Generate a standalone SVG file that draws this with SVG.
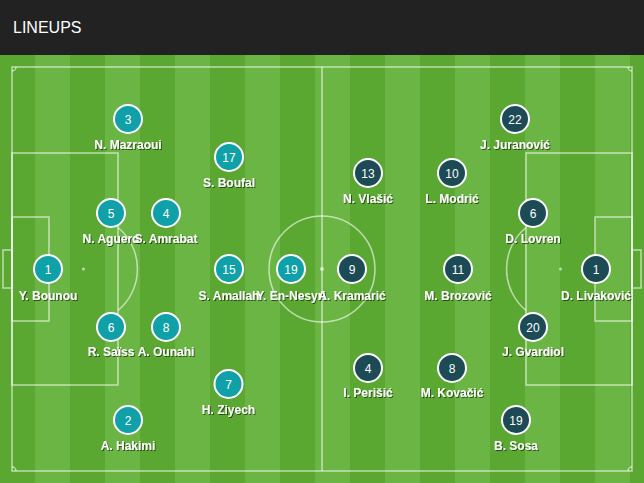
<svg xmlns="http://www.w3.org/2000/svg" width="644" height="483" viewBox="0 0 644 483">
<defs>
<filter id="ts" x="-20%" y="-40%" width="140%" height="180%">
<feDropShadow dx="1" dy="1" stdDeviation="0.6" flood-color="#000" flood-opacity="0.55"/>
</filter>
</defs>
<style>
.d{fill:#5aa832}
.l{fill:#6bb544}
.ln{fill:none;stroke:#ffffff;stroke-opacity:0.6;stroke-width:1.5}
.mor circle{fill:#0fa0a8;stroke:#ffffff;stroke-width:2}
.cro circle{fill:#1c4a55;stroke:#ffffff;stroke-width:2}
.num{font-family:"Liberation Sans",Arial,sans-serif;font-size:12px;fill:#ffffff;text-anchor:middle}
.nm{font-family:"Liberation Sans",Arial,sans-serif;font-size:12px;font-weight:bold;fill:#ffffff;text-anchor:middle;filter:url(#ts)}
</style>
<rect x="0" y="0" width="644" height="55" fill="#222222"/>
<text x="13" y="33" font-family="'Liberation Sans',Arial,sans-serif" font-size="16" fill="#ffffff">LINEUPS</text>
<g id="field">
<rect class="d" x="0" y="55" width="35" height="428"/>
<rect class="l" x="35" y="55" width="35" height="428"/>
<rect class="d" x="70" y="55" width="35" height="428"/>
<rect class="l" x="105" y="55" width="35" height="428"/>
<rect class="d" x="140" y="55" width="35" height="428"/>
<rect class="l" x="175" y="55" width="35" height="428"/>
<rect class="d" x="210" y="55" width="35" height="428"/>
<rect class="l" x="245" y="55" width="35" height="428"/>
<rect class="d" x="280" y="55" width="35" height="428"/>
<rect class="l" x="315" y="55" width="35" height="428"/>
<rect class="d" x="350" y="55" width="35" height="428"/>
<rect class="l" x="385" y="55" width="35" height="428"/>
<rect class="d" x="420" y="55" width="35" height="428"/>
<rect class="l" x="455" y="55" width="35" height="428"/>
<rect class="d" x="490" y="55" width="35" height="428"/>
<rect class="l" x="525" y="55" width="35" height="428"/>
<rect class="d" x="560" y="55" width="35" height="428"/>
<rect class="l" x="595" y="55" width="35" height="428"/>
<rect class="d" x="630" y="55" width="14" height="428"/>
</g>
<g id="pitch-lines">
<rect class="ln" x="12" y="67" width="620" height="404"/>
<line class="ln" x1="322" y1="67" x2="322" y2="471"/>
<circle class="ln" cx="322" cy="269" r="53"/>
<circle cx="322" cy="269" r="2" fill="#ffffff" fill-opacity="0.6"/>
<rect class="ln" x="12" y="153" width="106" height="232"/>
<rect class="ln" x="12" y="217" width="37" height="104"/>
<rect class="ln" x="3" y="250" width="9" height="38"/>
<circle cx="83.5" cy="269" r="1.5" fill="#ffffff" fill-opacity="0.6"/>
<path class="ln" d="M118 227.5 A54 54 0 0 1 118 310.5"/>
<rect class="ln" x="526" y="153" width="106" height="232"/>
<rect class="ln" x="595" y="217" width="37" height="104"/>
<rect class="ln" x="632" y="250" width="9" height="38"/>
<circle cx="560.5" cy="269" r="1.5" fill="#ffffff" fill-opacity="0.6"/>
<path class="ln" d="M526 227.5 A54 54 0 0 0 526 310.5"/>
<path class="ln" d="M12 71 A4 4 0 0 0 16 67"/>
<path class="ln" d="M628 67 A4 4 0 0 0 632 71"/>
<path class="ln" d="M16 471 A4 4 0 0 0 12 467"/>
<path class="ln" d="M632 467 A4 4 0 0 0 628 471"/>
</g>
<g id="morocco" class="mor">
<g id="p-mazraoui"><circle cx="128" cy="119" r="14"/><text class="num" x="128" y="123.5">3</text><text class="nm" x="128" y="148.5">N. Mazraoui</text></g>
<g id="p-boufal"><circle cx="229" cy="157" r="14"/><text class="num" x="229" y="161.5">17</text><text class="nm" x="229" y="186.5">S. Boufal</text></g>
<g id="p-aguerd"><circle cx="111" cy="213" r="14"/><text class="num" x="111" y="217.5">5</text><text class="nm" x="111" y="242.5">N. Aguerd</text></g>
<g id="p-amrabat"><circle cx="166" cy="213" r="14"/><text class="num" x="166" y="217.5">4</text><text class="nm" x="166" y="242.5">S. Amrabat</text></g>
<g id="p-bounou"><circle cx="48" cy="269" r="14"/><text class="num" x="48" y="273.5">1</text><text class="nm" x="48" y="299.5">Y. Bounou</text></g>
<g id="p-amallah"><circle cx="229" cy="269" r="14"/><text class="num" x="229" y="273.5">15</text><text class="nm" x="229" y="299.5">S. Amallah</text></g>
<g id="p-ennesyri"><circle cx="291" cy="269" r="14"/><text class="num" x="291" y="273.5">19</text><text class="nm" x="291" y="299.5">Y. En-Nesyri</text></g>
<g id="p-saiss"><circle cx="111" cy="327" r="14"/><text class="num" x="111" y="331.5">6</text><text class="nm" x="111" y="356">R. Saïss</text></g>
<g id="p-ounahi"><circle cx="166" cy="327" r="14"/><text class="num" x="166" y="331.5">8</text><text class="nm" x="166" y="356">A. Ounahi</text></g>
<g id="p-ziyech"><circle cx="228.5" cy="384" r="14"/><text class="num" x="228.5" y="388.5">7</text><text class="nm" x="228.5" y="413.5">H. Ziyech</text></g>
<g id="p-hakimi"><circle cx="128" cy="420" r="14"/><text class="num" x="128" y="424.5">2</text><text class="nm" x="128" y="449.5">A. Hakimi</text></g>
</g>
<g id="croatia" class="cro">
<g id="p-juranovic"><circle cx="515" cy="119" r="14"/><text class="num" x="515" y="123.5">22</text><text class="nm" x="515" y="148.5">J. Juranović</text></g>
<g id="p-vlasic"><circle cx="368" cy="173" r="14"/><text class="num" x="368" y="177.5">13</text><text class="nm" x="368" y="202.5">N. Vlašić</text></g>
<g id="p-modric"><circle cx="452" cy="173" r="14"/><text class="num" x="452" y="177.5">10</text><text class="nm" x="452" y="202.5">L. Modrić</text></g>
<g id="p-lovren"><circle cx="533" cy="213" r="14"/><text class="num" x="533" y="217.5">6</text><text class="nm" x="533" y="242.5">D. Lovren</text></g>
<g id="p-kramaric"><circle cx="352" cy="269" r="14"/><text class="num" x="352" y="273.5">9</text><text class="nm" x="352" y="299.5">A. Kramarić</text></g>
<g id="p-brozovic"><circle cx="458" cy="269" r="14"/><text class="num" x="458" y="273.5">11</text><text class="nm" x="458" y="299.5">M. Brozović</text></g>
<g id="p-livakovic"><circle cx="596" cy="269" r="14"/><text class="num" x="596" y="273.5">1</text><text class="nm" x="596" y="299.5">D. Livaković</text></g>
<g id="p-gvardiol"><circle cx="533" cy="327" r="14"/><text class="num" x="533" y="331.5">20</text><text class="nm" x="533" y="356">J. Gvardiol</text></g>
<g id="p-perisic"><circle cx="368" cy="368" r="14"/><text class="num" x="368" y="372.5">4</text><text class="nm" x="368" y="397">I. Perišić</text></g>
<g id="p-kovacic"><circle cx="452" cy="368" r="14"/><text class="num" x="452" y="372.5">8</text><text class="nm" x="452" y="397">M. Kovačić</text></g>
<g id="p-sosa"><circle cx="516" cy="420" r="14"/><text class="num" x="516" y="424.5">19</text><text class="nm" x="516" y="449.5">B. Sosa</text></g>
</g>
</svg>
